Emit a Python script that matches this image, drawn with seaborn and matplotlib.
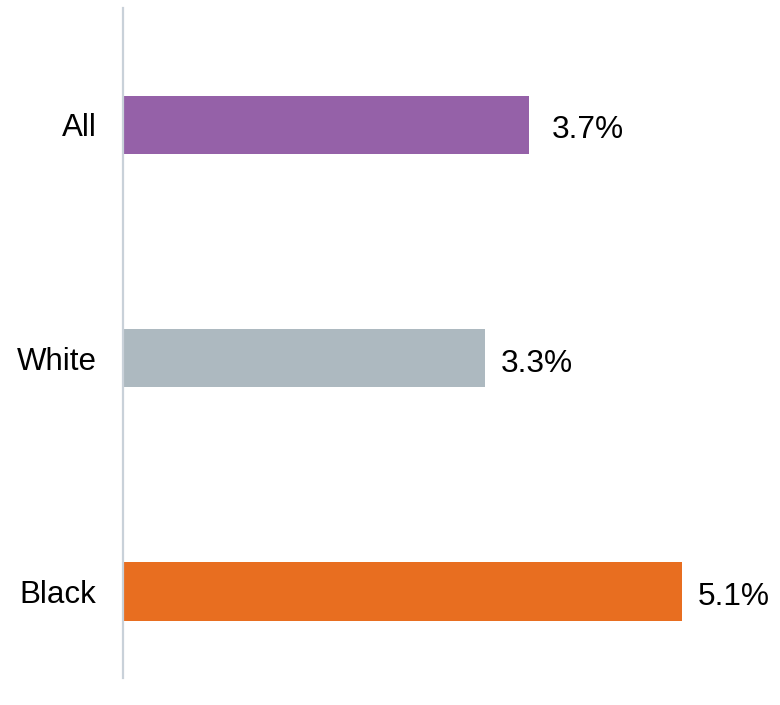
import matplotlib
matplotlib.use("Agg")
import matplotlib.pyplot as plt
import seaborn as sns
import pandas as pd

categories = ["All", "White", "Black"]
values = [3.7, 3.3, 5.1]
value_labels = ["3.7%", "3.3%", "5.1%"]
colors = ["#9561A8", "#ADB9C0", "#E86E20"]

sns.set_theme(style="white")
plt.rcParams['font.family'] = ['Liberation Sans', 'DejaVu Sans']

df = pd.DataFrame({"cat": categories, "val": values})

fig = plt.figure(figsize=(7.8, 7.05), dpi=100)
ax = fig.add_axes([123/780, 27/705, 650/780, 670/705])
sns.barplot(data=df, y="cat", x="val", hue="cat", palette=colors, order=categories,
            hue_order=categories, orient="h", width=0.25, legend=False, ax=ax,
            saturation=1, linewidth=0)

ax.set_xlim(0, 650/109.7)
ax.set_ylim(2.37, -0.5)
ax.set_xlabel("")
ax.set_ylabel("")
ax.set_xticks([])
for s in ["top", "right", "bottom"]:
    ax.spines[s].set_visible(False)
ax.spines["left"].set_color("#C9D1D9")
ax.spines["left"].set_linewidth(1.6)
ax.tick_params(axis="y", length=0, pad=19, labelsize=22.5, labelcolor="#000000")

label_dx = [16.5, 11, 11]
for i, (v, lab) in enumerate(zip(values, value_labels)):
    ax.annotate(lab, xy=(v, i), xytext=(label_dx[i], -4), textcoords="offset points",
                va="center", ha="left", fontsize=22.8, color="#000000")

fig.savefig("out.png", dpi=100)
